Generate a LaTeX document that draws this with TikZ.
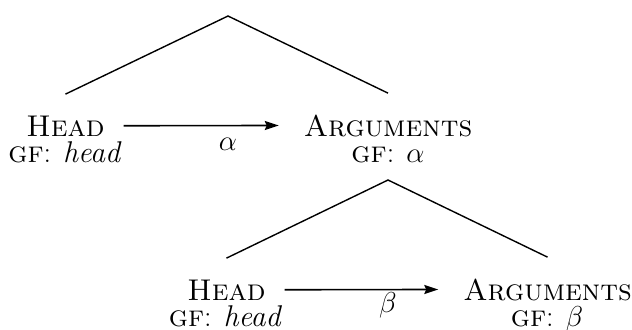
\documentclass[tikz,border=0pt]{standalone}
\usepackage{fontspec}
\usepackage{tikz}
\usetikzlibrary{positioning, arrows.meta}

\newcommand{\gfsc}{\textsc{gf}}

\begin{document}
\begin{tikzpicture}[
  x=0.5pt, y=-0.5pt,
  cat/.style={font=\fontsize{15}{17}\selectfont\addfontfeature{LetterSpace=3},
              inner sep=0pt, anchor=base},
  hdcat/.style={cat, outer xsep=9.5pt},
  argcat/.style={cat, outer xsep=12.5pt},
  gfline/.style={font=\fontsize{15}{17}\selectfont\addfontfeature{LetterSpace=3},
                 inner sep=0pt, anchor=base},
  lab/.style={font=\fontsize{14}{16}\selectfont, inner sep=0pt, anchor=base},
  leg/.style={line width=0.7pt},
  flow/.style={-{Stealth[length=7pt,width=4.5pt,inset=1pt]}, line width=0.8pt},
]
\useasboundingbox (0,0) rectangle (632,329);

% =========================================================================
% Upper tree: head and arguments, gf alpha
% =========================================================================
\coordinate (ap1) at (228,16);
\node[hdcat]  (hd1)  at (65.5,136) {\textsc{Head}};
\node[gfline] (hgf1) at (65,162)   {\gfsc: \textit{head}};
\node[argcat] (arg1) at (388,136)  {\textsc{Arguments}};
\node[gfline] (agf1) at (388,162)  {\gfsc: $\alpha$};
\coordinate[above=10.5pt of hd1.north]  (lt1);
\coordinate[above=10.5pt of arg1.north] (rt1);

\draw[leg] (lt1) -- (ap1) -- (rt1);
\draw[flow] (hd1.east) -- (arg1.west);
\node[lab] (al) at (228,150) {$\alpha$};

% =========================================================================
% Lower tree hangs from the arguments, gf beta
% =========================================================================
\coordinate[below=9pt of agf1.base] (ap2);
\node[hdcat]  (hd2)  at (226.5,300) {\textsc{Head}};
\node[gfline] (hgf2) at (225.5,326) {\gfsc: \textit{head}};
\node[argcat] (arg2) at (547.5,300) {\textsc{Arguments}};
\node[gfline] (agf2) at (547,326)   {\gfsc: $\beta$};
\coordinate[above=10.5pt of hd2.north]  (lt2);
\coordinate[above=10.5pt of arg2.north] (rt2);

\draw[leg] (lt2) -- (ap2) -- (rt2);
\draw[flow] (hd2.east) -- (arg2.west);
\node[lab] (be) at (388,312) {$\beta$};

\end{tikzpicture}
\end{document}
